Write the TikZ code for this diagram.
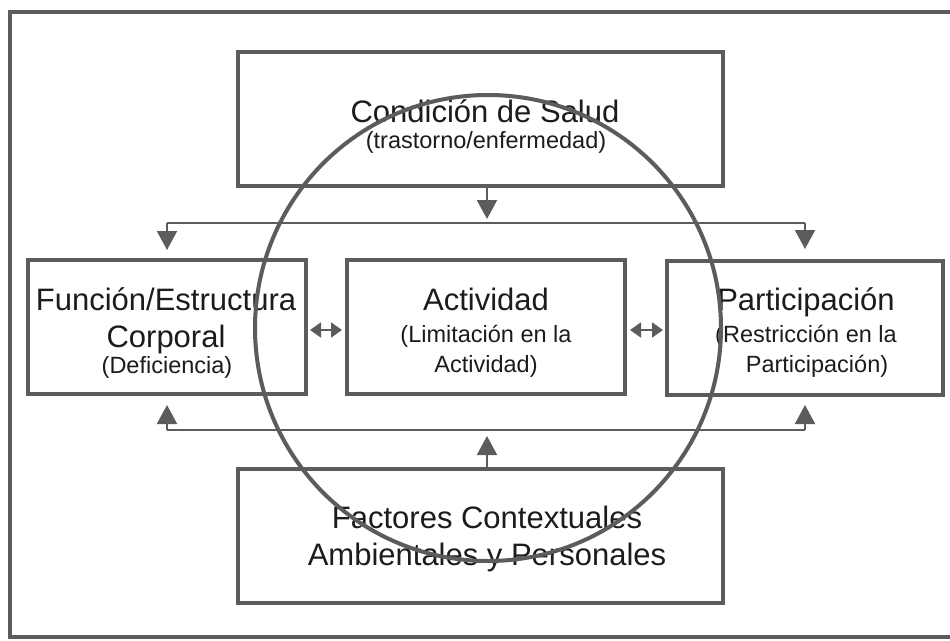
\documentclass[tikz,border=0pt]{standalone}
\usepackage{fontspec}
\setmainfont{Liberation Sans}
\usetikzlibrary{arrows.meta}
\definecolor{lg}{RGB}{92,92,92}
\definecolor{tx}{RGB}{28,28,28}
\tikzset{
  box/.style={draw=lg, line width=4pt, rectangle, minimum width=#1, minimum height=134pt, inner sep=0pt},
  big/.style={anchor=base, text=tx, inner sep=0pt, font=\fontsize{31}{37}\selectfont},
  small/.style={anchor=base, text=tx, inner sep=0pt, font=\fontsize{23.5}{30}\selectfont},
  conn/.style={draw=lg, line width=2pt},
  arr/.style={conn, -{Triangle[length=19pt,width=20pt]}},
  dbl/.style={conn, {Triangle[length=11pt,width=15pt]}-{Triangle[length=11pt,width=15pt]}}
}
\begin{document}
\begin{tikzpicture}[x=1pt,y=-1pt]
\useasboundingbox (0,0) rectangle (950,640);
\fill[white] (0,0) rectangle (950,640);
\begin{scope}
\clip (0,0) rectangle (950,640);
\draw[draw=lg, line width=4.5pt] (10,12) rectangle (975,637);
\end{scope}
% boxes
\node[box=485pt] (top) at (480.5,119) {};
\node[box=278pt] (left) at (167,327) {};
\node[box=278pt] (mid) at (486,327) {};
\node[box=276pt] (right) at (805,328) {};
\node[box=485pt] (bot) at (480.5,536) {};
% texts
\node[big] (t1) at (485,122) {Condición de Salud};
\node[small] (t2) at (486,148) {(trastorno/enfermedad)};
\node[big] (l1) at (166,310) {Función/Estructura};
\node[big] (l2) at (166,347) {Corporal};
\node[small] (l3) at (167,373) {(Deficiencia)};
\node[big] (m1) at (486,310) {Actividad};
\node[small] (m2) at (486,342) {(Limitación en la};
\node[small] (m3) at (486,372) {Actividad)};
\node[big] (r1) at (806,310) {Participación};
\node[small] (r2) at (806,342) {(Restricción en la};
\node[small] (r3) at (817,372) {Participación)};
\node[big] (b1) at (487,528) {Factores Contextuales};
\node[big] (b2) at (487,565) {Ambientales y Personales};
% connector coordinates
\coordinate (ts) at (487,186);
\coordinate (tj) at (487,223);
\coordinate (tl) at (167,223);
\coordinate (tr) at (805,223);
\coordinate (bn) at (487,469);
\coordinate (bt) at (487,436);
\coordinate (bl) at (167,430);
\coordinate (br) at (805,430);
\coordinate (la) at (306,330);
\coordinate (ma) at (347,330);
\coordinate (mb) at (625,330);
\coordinate (ra) at (667,330);
% connectors
\draw[arr, shorten >=4pt] (ts) -- (tj);
\draw[conn] (tl) -- (tr);
\draw[arr, shorten >=8pt] (tl) -- (left.north);
\draw[arr, shorten >=10pt] (tr) -- (right.north);
\draw[arr] (bn) -- (bt);
\draw[conn] (bl) -- (br);
\draw[arr, shorten >=9pt] (bl) -- (left.south);
\draw[arr, shorten >=8pt] (br) -- (right.south);
\draw[dbl, shorten <=4pt, shorten >=5pt] (la) -- (ma);
\draw[dbl, shorten <=5pt, shorten >=4pt] (mb) -- (ra);
% circle
\node[draw=lg, line width=4pt, circle, minimum size=466pt, inner sep=0pt] (circ) at (488,328) {};
\end{tikzpicture}
\end{document}
